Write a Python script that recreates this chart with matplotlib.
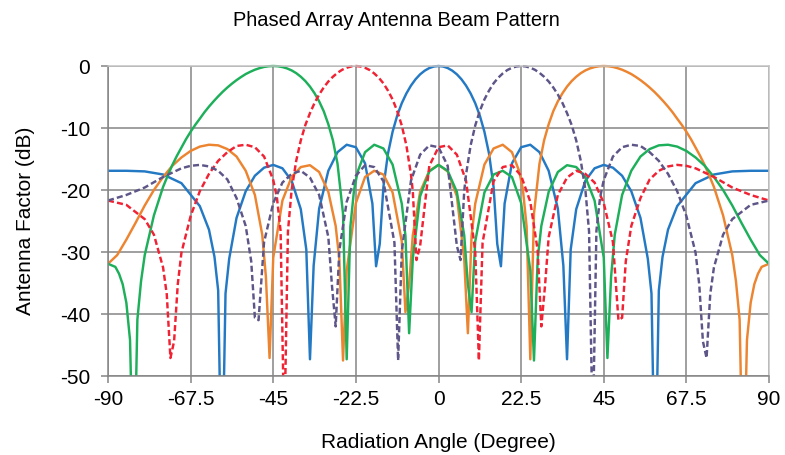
import matplotlib
matplotlib.use("Agg")
import matplotlib.pyplot as plt
from matplotlib.patches import Rectangle

plt.rcParams['font.family'] = ['Liberation Sans', 'DejaVu Sans']
plt.rcParams['axes.unicode_minus'] = False

# Array factor (dB) vs angle for five beam steering directions
blue_ang = [-90, -85, -80, -75, -70, -65, -62.5, -61, -60, -59, -58, -57, -55, -52.5, -50, -47.5, -45, -42.5, -40,
            -37.5, -36, -35, -34, -32.5, -30, -27.5, -25, -22.5, -20, -18, -17, -16, -15, -13.75, -12.5, -11.25,
            -10, -8.75, -7.5, -6.25, -5, -3.75, -2.5, -1.25, 0, 1.25, 2.5, 3.75, 5, 6.25, 7.5, 8.75, 10, 11.25,
            12.5, 13.75, 15, 16, 17, 18, 20, 22.5, 25, 27.5, 30, 32.5, 34, 35, 36, 37.5, 40, 42.5, 45, 47.5, 50,
            52.5, 55, 57, 58, 59, 60, 61, 62.5, 65, 70, 75, 80, 85, 90]
blue_db = [-16.9, -16.9, -17.0, -17.5, -18.9, -22.6, -26.4, -30.8, -36.2, -70, -36.7, -31.1, -24.5, -20.2, -17.7,
           -16.4, -15.95, -16.5, -18.5, -23.1, -29.6, -47.3, -32.2, -23.0, -16.9, -13.9, -12.7, -13.1, -15.7, -22.2,
           -32.3, -28.7, -19.5, -14.1, -10.6, -8.0, -6.0, -4.43, -3.16, -2.14, -1.34, -0.75, -0.33, -0.08, 0,
           -0.08, -0.33, -0.75, -1.34, -2.14, -3.16, -4.43, -6.0, -8.0, -10.6, -14.1, -19.5, -28.7, -32.3, -22.2,
           -15.7, -13.1, -12.7, -13.9, -16.9, -23.0, -32.2, -47.3, -29.6, -23.1, -18.5, -16.5, -15.95, -16.4, -17.7,
           -20.2, -24.5, -31.1, -36.7, -70, -36.2, -30.8, -26.4, -22.6, -18.9, -17.5, -17.0, -16.9, -16.9]

green_ang = [-90, -88, -87, -86, -85, -84, -83, -82, -81, -80, -77.5, -75, -73.75, -72.5, -71.25, -70, -68.75, -67.5,
             -66.25, -65, -63.75, -62.5, -61.25, -60, -58.75, -57.5, -56.25, -55, -53.75, -52.5, -51.25, -50,
             -48.75, -47.5, -46.25, -45, -43.75, -42.5, -41.25, -40, -38.75, -37.5, -36.25, -35, -33.75, -32.5,
             -31.25, -30, -28.75, -27.5, -26, -25, -24, -23, -22, -20, -17.5, -15, -12.5, -10, -9, -8, -7, -5,
             -2.5, 0, 2.5, 5, 7, 8, 9, 10, 12.5, 15, 17.5, 20, 22.5, 25, 26, 27, 28, 30, 32.5, 35, 37.5, 40, 42.5,
             45, 46, 47, 48, 50, 52.5, 55, 57.5, 60, 62.5, 65, 67.5, 70, 72.5, 75, 77.5, 80, 82.5, 85, 87.5, 90]
green_db = [-31.9, -32.4, -33.5, -35.2, -38.2, -44.2, -70, -40.9, -34.7, -30.5, -24.1, -19.5, -17.7, -16.0, -14.5,
            -13.15, -11.8, -10.6, -9.5, -8.5, -7.47, -6.55, -5.7, -4.9, -4.15, -3.47, -2.85, -2.28, -1.77, -1.3,
            -0.93, -0.6, -0.35, -0.15, -0.04, 0, -0.04, -0.17, -0.39, -0.71, -1.15, -1.73, -2.44, -3.32, -4.40, -5.7,
            -7.3, -9.4, -12.0, -15.75, -23.8, -47.3, -25.9, -20.0, -17.0, -13.9, -12.7, -13.3, -15.9, -22.2, -27.4,
            -43.1, -31.1, -21.0, -17.0, -15.95, -16.9, -20.3, -27.3, -35.2, -39.7, -28.3, -20.4, -17.5, -16.9, -17.9,
            -22.1, -33.0, -47.5, -31.2, -25.8, -20.3, -17.1, -16.0, -16.3, -17.9, -21.7, -30.9, -47.1, -34.0, -27.2,
            -20.8, -16.9, -14.6, -13.4, -12.8, -12.7, -13.0, -13.7, -14.75, -16.1, -17.9, -20.0, -22.5, -25.3, -28.0,
            -30.5, -31.9]

orange_ang = [-90, -87.5, -85, -82.5, -80, -77.5, -75, -72.5, -70, -67.5, -65, -62.5, -60, -57.5, -55, -52.5, -50,
              -48, -47, -46, -45, -42.5, -40, -37.5, -35, -32.5, -30, -28, -27, -26, -25, -22.5, -20, -17.5, -15,
              -12.5, -10, -9, -8, -7, -5, -2.5, 0, 2.5, 5, 7, 8, 9, 10, 12.5, 15, 17.5, 20, 22, 23, 24, 25, 26, 27.5,
              28.75, 30, 31.25, 32.5, 33.75, 35, 36.25, 37.5, 38.75, 40, 41.25, 42.5, 43.75, 45, 46.25, 47.5, 48.75,
              50, 51.25, 52.5, 53.75, 55, 56.25, 57.5, 58.75, 60, 61.25, 62.5, 63.75, 65, 66.25, 67.5, 68.75, 70,
              71.25, 72.5, 73.75, 75, 77.5, 80, 81, 82, 83, 84, 85, 86, 87, 88, 90]
orange_db = [-31.9, -30.5, -28.0, -25.3, -22.5, -20.0, -17.9, -16.1, -14.75, -13.7, -13.0, -12.7, -12.8, -13.4,
             -14.6, -16.9, -20.8, -27.2, -34.0, -47.1, -30.9, -21.7, -17.9, -16.3, -16.0, -17.1, -20.3, -25.8, -31.2,
             -47.5, -33.0, -22.1, -17.9, -16.9, -17.5, -20.4, -28.3, -39.7, -35.2, -27.3, -20.3, -16.9, -15.95, -17.0,
             -21.0, -31.1, -43.1, -27.4, -22.2, -15.9, -13.3, -12.7, -13.9, -17.0, -20.0, -25.9, -47.3, -23.8, -15.75,
             -12.0, -9.4, -7.3, -5.7, -4.40, -3.32, -2.44, -1.73, -1.15, -0.71, -0.39, -0.17, -0.04, 0, -0.04, -0.15,
             -0.35, -0.6, -0.93, -1.3, -1.77, -2.28, -2.85, -3.47, -4.15, -4.9, -5.7, -6.55, -7.47, -8.5, -9.5, -10.6,
             -11.8, -13.15, -14.5, -16.0, -17.7, -19.5, -24.1, -30.5, -34.7, -40.9, -70, -44.2, -38.2, -35.2, -33.5,
             -32.4, -31.9]

red_ang = [-90, -85, -80, -77.5, -75, -74, -73, -72, -71, -70, -67.5, -65, -62.5, -60, -57.5, -55, -52.5, -50, -47.5,
           -45, -44, -43, -42, -41, -40, -38.75, -37.5, -36.25, -35, -33.75, -32.5, -31.25, -30, -28.75, -27.5,
           -26.25, -25, -23.75, -22.5, -21.25, -20, -18.75, -17.5, -16.25, -15, -13.75, -12.5, -11.25, -10, -8.75,
           -7.5, -7, -6, -5, -2.5, 0, 2.5, 5, 7.5, 10, 11, 12, 15, 17.5, 20, 22.5, 25, 27, 28, 29, 30, 32.5, 35,
           37.5, 40, 42.5, 45, 47.5, 49, 50, 51, 52.5, 55, 57.5, 60, 62.5, 65, 67.5, 70, 75, 80, 85, 90]
red_db = [-21.7, -22.4, -24.7, -27.2, -32.5, -36.8, -47.1, -44.4, -35.2, -30.1, -24.2, -20.2, -17.4, -15.3, -13.9,
          -12.9, -12.7, -13.1, -14.6, -18.4, -21.2, -26.6, -60, -26.7, -20.0, -15.3, -12.0, -9.5, -7.6, -5.96, -4.6,
          -3.46, -2.5, -1.73, -1.1, -0.61, -0.28, -0.07, 0, -0.07, -0.29, -0.65, -1.2, -1.9, -2.8, -3.98, -5.4,
          -7.25, -9.6, -12.8, -17.5, -20.2, -31.3, -29.0, -16.1, -13.1, -12.8, -14.3, -18.5, -29.9, -47.5, -28.5,
          -18.6, -16.3, -16.0, -17.7, -21.9, -29.7, -42.0, -35.5, -27.6, -20.8, -18.0, -16.9, -17.4, -18.8, -22.1,
          -28.4, -41.0, -40.6, -31.5, -25.8, -21.3, -18.3, -16.9, -16.2, -15.95, -16.1, -16.5, -17.9, -19.6, -20.8,
          -21.7]

purple_ang = [-90, -85, -80, -75, -70, -67.5, -65, -62.5, -60, -57.5, -55, -52.5, -51, -50, -49, -47.5, -45, -42.5,
              -40, -37.5, -35, -32.5, -30, -29, -28, -27, -25, -22.5, -20, -17.5, -15, -12, -11, -10, -7.5, -5,
              -2.5, 0, 2.5, 5, 6, 7, 7.5, 8.75, 10, 11.25, 12.5, 13.75, 15, 16.25, 17.5, 18.75, 20, 21.25, 22.5,
              23.75, 25, 26.25, 27.5, 28.75, 30, 31.25, 32.5, 33.75, 35, 36.25, 37.5, 38.75, 40, 41, 42, 43, 44, 45,
              47.5, 50, 52.5, 55, 57.5, 60, 62.5, 65, 67.5, 70, 71, 72, 73, 74, 75, 77.5, 80, 85, 90]
purple_db = [-21.7, -20.8, -19.6, -17.9, -16.5, -16.1, -15.95, -16.2, -16.9, -18.3, -21.3, -25.8, -31.5, -40.6,
             -41.0, -28.4, -22.1, -18.8, -17.4, -16.9, -18.0, -20.8, -27.6, -35.5, -42.0, -29.7, -21.9, -17.7, -16.0,
             -16.3, -18.6, -28.5, -47.5, -29.9, -18.5, -14.3, -12.8, -13.1, -16.1, -29.0, -31.3, -20.2, -17.5, -12.8,
             -9.6, -7.25, -5.4, -3.98, -2.8, -1.9, -1.2, -0.65, -0.29, -0.07, 0, -0.07, -0.28, -0.61, -1.1, -1.73,
             -2.5, -3.46, -4.6, -5.96, -7.6, -9.5, -12.0, -15.3, -20.0, -26.7, -60, -26.6, -21.2, -18.4, -14.6,
             -13.1, -12.7, -12.9, -13.9, -15.3, -17.4, -20.2, -24.2, -30.1, -35.2, -44.4, -47.1, -36.8, -32.5, -27.2,
             -24.7, -22.4, -21.7]

x_ticks = [-90, -67.5, -45, -22.5, 0, 22.5, 45, 67.5, 90]
x_labels = ["-90", "-67.5", "-45", "-22.5", "0", "22.5", "45", "67.5", "90"]
y_ticks = [0, -10, -20, -30, -40, -50]

fig = plt.figure(figsize=(7.85, 4.55), dpi=100)
ax = fig.add_axes([108 / 785, 1 - 376 / 455, 661 / 785, 310 / 455])

lw = 1.75
dash = (0, (2.5, 1.3))
lines = []
lines += ax.plot(blue_ang, blue_db, color="#2479C4", lw=lw)
lines += ax.plot(orange_ang, orange_db, color="#EC8430", lw=lw)
lines += ax.plot(green_ang, green_db, color="#1DAF5A", lw=lw)
lines += ax.plot(red_ang, red_db, color="#F02233", lw=lw, linestyle=dash)
lines += ax.plot(purple_ang, purple_db, color="#5E5588", lw=lw, linestyle=dash)

# let the 0 dB peaks show their full width above the top edge
clip = Rectangle((0, 0), 1, 1.03, transform=ax.transAxes, visible=False)
ax.add_patch(clip)
for ln in lines:
    ln.set_clip_path(clip)

ax.set_xlim(-90, 90)
ax.set_ylim(-50, 0)
ax.set_xticks(x_ticks)
ax.set_xticklabels(x_labels)
ax.set_yticks(y_ticks)
ax.grid(True, color="#858585", lw=1.1)
ax.set_axisbelow(True)
ax.tick_params(axis="both", direction="out", length=5, width=1.1, color="#858585", labelsize=15)
ax.tick_params(axis="y", pad=8)
ax.tick_params(axis="x", pad=5)
for side in ("left", "bottom"):
    ax.spines[side].set_color("#858585")
    ax.spines[side].set_linewidth(1.1)
for side in ("top", "right"):
    ax.spines[side].set_color("#C4C4C4")
    ax.spines[side].set_linewidth(1.1)

fig.text(396 / 785, 1 - 20 / 455, "Phased Array Antenna Beam Pattern", fontsize=14.4, ha="center", va="center")
fig.text(438 / 785, 1 - 442 / 455, "Radiation Angle (Degree)", fontsize=15, ha="center", va="center")
fig.text(26 / 785, 1 - 221 / 455, "Antenna Factor (dB)", fontsize=15, ha="center", va="center", rotation=90)

fig.savefig("out.png", dpi=100)
